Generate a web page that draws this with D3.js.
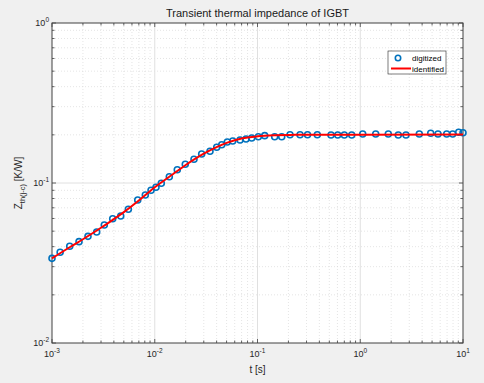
<!DOCTYPE html>
<html><head><meta charset="utf-8">
<script src="https://cdn.jsdelivr.net/npm/d3@7"></script>
<style>
body{margin:0;background:#f0f0f0;}
svg{display:block;font-family:"Liberation Sans",Arial,sans-serif;}
</style></head><body>
<svg id="c" width="484" height="383"></svg>
<script>
const tDigitized = [0.001,0.0012,0.001487,0.001832,0.00224,0.002722,0.003228,0.003897,0.004665,0.005534,0.00683,0.008095,0.0092,0.01028,0.01158,0.01386,0.01657,0.01982,0.02409,0.02862,0.03449,0.04009,0.04487,0.05085,0.0574,0.06761,0.07734,0.08785,0.1019,0.1175,0.147,0.1721,0.2072,0.2594,0.3069,0.382,0.5194,0.6035,0.6998,0.826,1.057,1.414,1.875,2.345,2.787,3.755,4.849,5.71,6.94,7.937,9.08,10];
const zDigitized = [0.0338,0.0369,0.0402,0.043,0.0464,0.0494,0.0546,0.0598,0.0622,0.0685,0.0783,0.0841,0.09,0.094,0.0996,0.1095,0.121,0.1309,0.1406,0.1518,0.1578,0.1672,0.1734,0.1803,0.183,0.1857,0.1884,0.191,0.1946,0.1976,0.1946,0.1946,0.2004,0.2004,0.2001,0.2004,0.1995,0.1995,0.1995,0.1995,0.2023,0.2023,0.2023,0.1995,0.1995,0.2023,0.2046,0.2023,0.2023,0.2023,0.2074,0.2062];
// Identified model curve
const tIdentified = [0.001,0.0015,0.002,0.003,0.004,0.005,0.007,0.01,0.015,0.02,0.03,0.04,0.05,0.07,0.1,0.15,0.2,0.5,1,10];
const zIdentified = [0.0338,0.0398,0.0445,0.0525,0.0595,0.0658,0.0778,0.094,0.1135,0.1295,0.1525,0.1675,0.1782,0.1898,0.1958,0.1988,0.1998,0.2004,0.2005,0.2008];
const xTickVals = [0.001,0.01,0.1,1,10];
const xTickExp = ["-3","-2","-1","0","1"];
const yTickVals = [0.01,0.1,1];
const yTickExp = ["-2","-1","0"];
const titleText = "Transient thermal impedance of IGBT";
const legendLabels = ["digitized","identified"];

const svg = d3.select("#c");
const L=52,R=463,T=23,B=343;
const x = d3.scaleLog().domain([1e-3,10]).range([L,R]);
const y = d3.scaleLog().domain([1e-2,1]).range([B,T]);

svg.append("rect").attr("x",L).attr("y",T).attr("width",R-L).attr("height",B-T).attr("fill","#fff");

const xMinor=[],yMinor=[];
for(let d=-3;d<1;d++)for(let k=2;k<10;k++)xMinor.push(k*Math.pow(10,d));
for(let d=-2;d<0;d++)for(let k=2;k<10;k++)yMinor.push(k*Math.pow(10,d));

const g=svg.append("g");
g.selectAll(".xm").data(xMinor).join("line").attr("x1",d=>x(d)).attr("x2",d=>x(d)).attr("y1",T).attr("y2",B)
 .attr("stroke","#d4d4d4").attr("stroke-width",0.6).attr("stroke-dasharray","1,2");
g.selectAll(".ym").data(yMinor).join("line").attr("y1",d=>y(d)).attr("y2",d=>y(d)).attr("x1",L).attr("x2",R)
 .attr("stroke","#d4d4d4").attr("stroke-width",0.6).attr("stroke-dasharray","1,2");
g.selectAll(".xM").data(xTickVals.slice(1,-1)).join("line").attr("x1",d=>x(d)).attr("x2",d=>x(d)).attr("y1",T).attr("y2",B)
 .attr("stroke","#e0e0e0").attr("stroke-width",1);
g.selectAll(".yM").data(yTickVals.slice(1,-1)).join("line").attr("y1",d=>y(d)).attr("y2",d=>y(d)).attr("x1",L).attr("x2",R)
 .attr("stroke","#e0e0e0").attr("stroke-width",1);

function tickAxes(){
  const ax=svg.append("g").attr("stroke","#404040").attr("stroke-width",0.8);
  const allX=xTickVals.concat(xMinor), allY=yTickVals.concat(yMinor);
  allX.forEach(v=>{
    const len = xTickVals.includes(v)?4:2.5;
    ax.append("line").attr("x1",x(v)).attr("x2",x(v)).attr("y1",B).attr("y2",B-len);
    ax.append("line").attr("x1",x(v)).attr("x2",x(v)).attr("y1",T).attr("y2",T+len);
  });
  allY.forEach(v=>{
    const len = yTickVals.includes(v)?4:2.5;
    ax.append("line").attr("y1",y(v)).attr("y2",y(v)).attr("x1",L).attr("x2",L+len);
    ax.append("line").attr("y1",y(v)).attr("y2",y(v)).attr("x1",R).attr("x2",R-len);
  });
  svg.append("rect").attr("x",L).attr("y",T).attr("width",R-L).attr("height",B-T)
    .attr("fill","none").attr("stroke","#404040").attr("stroke-width",1);
}
tickAxes();

xTickVals.forEach((v,i)=>{
  const t=svg.append("text").attr("x",x(v)).attr("y",B+14).attr("text-anchor","middle")
    .attr("font-size",9).attr("fill","#262626");
  t.append("tspan").text("10");
  t.append("tspan").attr("dy",-4).attr("font-size",6.5).text(xTickExp[i]);
});
yTickVals.forEach((v,i)=>{
  const t=svg.append("text").attr("x",L-3).attr("y",y(v)+3).attr("text-anchor","end")
    .attr("font-size",9).attr("fill","#262626");
  t.append("tspan").text("10");
  t.append("tspan").attr("dy",-4).attr("font-size",6.5).text(yTickExp[i]);
});

svg.append("text").attr("x",(L+R)/2).attr("y",17).attr("text-anchor","middle").attr("font-size",11).attr("fill","#1a1a1a").text(titleText);
svg.append("text").attr("x",(L+R)/2).attr("y",373).attr("text-anchor","middle").attr("font-size",10).attr("fill","#262626").text("t [s]");
const yl=svg.append("text").attr("transform",`translate(22,${(T+B)/2}) rotate(-90)`).attr("text-anchor","middle")
  .attr("font-size",10).attr("fill","#262626");
yl.append("tspan").text("Z");
yl.append("tspan").attr("dy",3).attr("font-size",7.5).text("th(j-c)");
yl.append("tspan").attr("dy",-3).text(" [K/W]");

const pts = tDigitized.map((t,i)=>[t,zDigitized[i]]);
const idl = tIdentified.map((t,i)=>[t,zIdentified[i]]);
const plot=svg.append("g");
plot.selectAll("circle").data(pts).join("circle").attr("cx",d=>x(d[0])).attr("cy",d=>y(d[1])).attr("r",3)
  .attr("fill","none").attr("stroke","#0072BD").attr("stroke-width",1.6);
const line=d3.line().x(d=>x(d[0])).y(d=>y(d[1])).curve(d3.curveMonotoneX);
plot.append("path").attr("d",line(idl)).attr("fill","none").attr("stroke","#ff0000").attr("stroke-width",2);

const lg=svg.append("g");
lg.append("rect").attr("x",388).attr("y",51).attr("width",58).attr("height",23).attr("fill","#fff").attr("stroke","#262626").attr("stroke-width",0.6);
lg.append("circle").attr("cx",398).attr("cy",58).attr("r",2.7).attr("fill","none").attr("stroke","#0072BD").attr("stroke-width",1.6);
lg.append("line").attr("x1",391).attr("x2",411).attr("y1",68.5).attr("y2",68.5).attr("stroke","#ff0000").attr("stroke-width",2);
lg.append("text").attr("x",412).attr("y",61).attr("font-size",8).attr("fill","#000").text(legendLabels[0]);
lg.append("text").attr("x",412).attr("y",71.5).attr("font-size",8).attr("fill","#000").text(legendLabels[1]);
</script></body></html>
